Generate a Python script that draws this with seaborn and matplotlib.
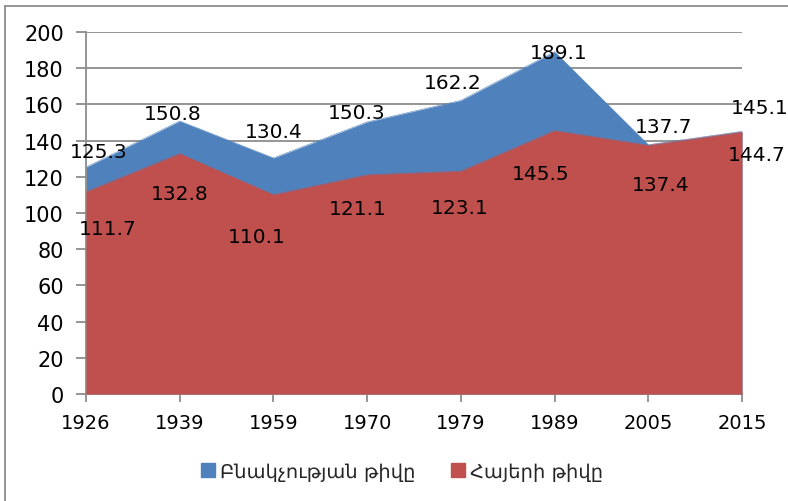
import numpy as np
import pandas as pd
import seaborn as sns
import matplotlib.pyplot as plt
from matplotlib.lines import Line2D

# values
years = ["1926", "1939", "1959", "1970", "1979", "1989", "2005", "2015"]
population = [125.3, 150.8, 130.4, 150.3, 162.2, 189.1, 137.7, 145.1]
armenians = [111.7, 132.8, 110.1, 121.1, 123.1, 145.5, 137.4, 144.7]
series_names = ["Բնակչության թիվը", "Հայերի թիվը"]
colors = ["#4F81BD", "#C0504D"]

# label nudges (pixels, x right / y down) to mimic the Excel placement
pop_nudge = [(13, -16), (-7, -8), (0, -26), (-11, -9), (-8, -18), (4, 1), (15, -18), (18, -24)]
arm_nudge = [(22, 37), (0, 40), (-17, 42), (-9, 34), (-1, 36), (-14, 43), (12, 39), (15, 22)]

df = pd.DataFrame({"year": years, "pop": population, "arm": armenians})
df["pos"] = np.arange(len(df))

sns.set_theme(style="white")
plt.rcParams["font.family"] = ["DejaVu Sans"]

fig = plt.figure(figsize=(7.88, 5.02), dpi=100)
ax = fig.add_axes([86 / 788, 1 - 395 / 502, (742 - 86) / 788, (395 - 33) / 502])

# areas: total population behind, Armenians in front
ax.fill_between(df["pos"], df["pop"], color=colors[0], lw=0, zorder=2)
ax.fill_between(df["pos"], df["arm"], color=colors[1], lw=0, zorder=3)
sns.lineplot(data=df, x="pos", y="pop", color=colors[0], lw=0.4, ax=ax, zorder=2)
sns.lineplot(data=df, x="pos", y="arm", color=colors[1], lw=0.4, ax=ax, zorder=3)

for i, (v, (dx, dy)) in enumerate(zip(df["pop"], pop_nudge)):
    ax.annotate(f"{v:.1f}", (i, v), xytext=(dx, -dy), textcoords="offset pixels",
                ha="center", va="center", fontsize=14.5, color="black", zorder=5,
                annotation_clip=False)
for i, (v, (dx, dy)) in enumerate(zip(df["arm"], arm_nudge)):
    ax.annotate(f"{v:.1f}", (i, v), xytext=(dx, -dy), textcoords="offset pixels",
                ha="center", va="center", fontsize=14.5, color="black", zorder=5,
                annotation_clip=False)

ax.set_xlim(0, len(years) - 1)
ax.set_ylim(0, 200)
ax.set_yticks(range(0, 201, 20))
ax.set_xticks(df["pos"])
ax.set_xticklabels(years)
ax.set_xlabel("")
ax.set_ylabel("")
ax.grid(axis="y", color="#8c8c8c", lw=1.3, zorder=0)
ax.set_axisbelow(True)
for side in ["top", "right"]:
    ax.spines[side].set_visible(False)
for side in ["left", "bottom"]:
    ax.spines[side].set_color("#8c8c8c")
    ax.spines[side].set_linewidth(1.3)
ax.tick_params(axis="y", left=True, length=7, width=1.3, color="#8c8c8c",
               labelsize=15, pad=9, labelcolor="black")
ax.tick_params(axis="x", bottom=True, length=6, width=1.3, color="#8c8c8c",
               labelsize=14, pad=8, labelcolor="black")

handles = [Line2D([], [], marker="s", ls="", markersize=10, color=c) for c in colors]
fig.legend(handles, series_names, loc="center", bbox_to_anchor=(0.51, 1 - 472 / 502),
           ncol=2, frameon=False, fontsize=14, handletextpad=0.2, columnspacing=1.8,
           handlelength=0.8)

# outer chart border (cut off at the right and bottom in the reference)
fig.add_artist(Line2D([5 / 788, 5 / 788], [0, 1 - 7 / 502], color="#8c8c8c", lw=1.3))
fig.add_artist(Line2D([5 / 788, 1], [1 - 7 / 502, 1 - 7 / 502], color="#8c8c8c", lw=1.3))

fig.savefig("out.png", dpi=100)
